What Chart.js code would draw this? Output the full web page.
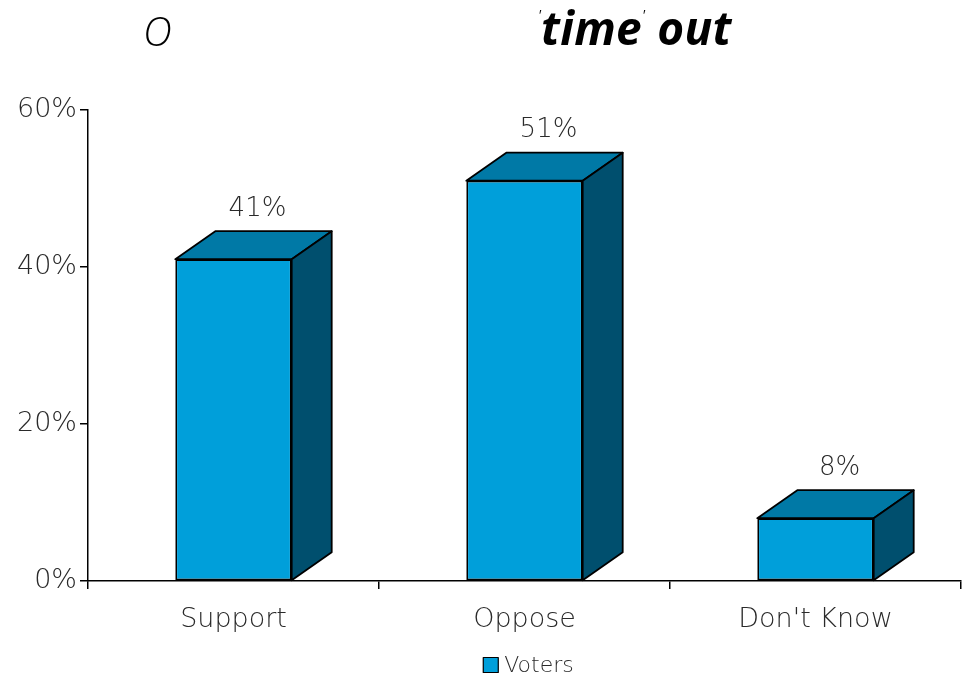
<!DOCTYPE html>
<html>
<head>
<meta charset="utf-8">
<script src="https://cdn.jsdelivr.net/npm/chart.js@4"></script>
<style>
  html, body { margin: 0; padding: 0; background: #fff; }
  #wrap { position: relative; width: 963px; height: 676px; }
  #c { position: absolute; left: 0; top: 0; }
  .t { position: absolute; font-family: "Open Sans", sans-serif; font-style: italic; color: #000; white-space: nowrap; }
  #t1 { left: 143px; top: 3px; font-size: 40px; font-weight: 300; }
  #t2 { left: 538px; top: -4px; font-size: 46px; font-weight: 700; letter-spacing: 0.3px; }
  #t2 .q { font-size: 14px; font-weight: 400; vertical-align: 25px; letter-spacing: 0; }
</style>
</head>
<body>
<div id="wrap">
  <canvas id="c" width="963" height="676"></canvas>
  <div class="t" id="t1">O</div>
  <div class="t" id="t2"><span class="q">'</span>time<span class="q">'</span> out</div>
</div>
<script>
const categories = ["Support", "Oppose", "Don't Know"];
const seriesLabel = "Voters";
const voters = [41, 51, 8];
const yTicks = [0, 20, 40, 60];

const FRONT = "#009fda";
const TOP = "#0079a6";
const SIDE = "#004f6e";
const DX = 40, DY = 28;
const FONT = "'DejaVu Sans ExtraLight', 'DejaVu Sans', sans-serif";
const TXT = "#2a2a2a";

const bar3d = {
  id: "bar3d",
  afterDatasetsDraw(chart) {
    const ctx = chart.ctx;
    const meta = chart.getDatasetMeta(0);
    ctx.save();
    ctx.lineWidth = 1.8;
    ctx.strokeStyle = "#000";
    ctx.lineJoin = "round";
    meta.data.forEach((bar, i) => {
      const p = bar.getProps(["x", "y", "base", "width"], true);
      const l = p.x - p.width / 2, r = p.x + p.width / 2;
      // top face
      ctx.beginPath();
      ctx.moveTo(l, p.y);
      ctx.lineTo(l + DX, p.y - DY);
      ctx.lineTo(r + DX, p.y - DY);
      ctx.lineTo(r, p.y);
      ctx.closePath();
      ctx.fillStyle = TOP; ctx.fill(); ctx.stroke();
      // side face
      ctx.beginPath();
      ctx.moveTo(r, p.y);
      ctx.lineTo(r + DX, p.y - DY);
      ctx.lineTo(r + DX, p.base - DY);
      ctx.lineTo(r, p.base);
      ctx.closePath();
      ctx.fillStyle = SIDE; ctx.fill(); ctx.stroke();
      // value label
      ctx.fillStyle = TXT;
      ctx.font = "200 26px " + FONT;
      ctx.textAlign = "center";
      ctx.textBaseline = "middle";
      ctx.fillText(voters[i] + "%", p.x + DX / 2 + 4, p.y - DY - 22);
    });
    // legend
    const cx = (chart.chartArea.left + chart.chartArea.right) / 2;
    ctx.font = "200 22px " + FONT;
    const tw = ctx.measureText(seriesLabel).width;
    const box = 15, gap = 6;
    const total = box + gap + tw;
    const lx = cx - total / 2 + 4;
    const ly = 665;
    ctx.fillStyle = FRONT;
    ctx.fillRect(lx, ly - box / 2, box, box);
    ctx.lineWidth = 1.2;
    ctx.strokeRect(lx, ly - box / 2, box, box);
    ctx.fillStyle = TXT;
    ctx.textAlign = "left";
    ctx.textBaseline = "middle";
    ctx.fillText(seriesLabel, lx + box + gap, ly + 1);
    ctx.restore();
  }
};

new Chart(document.getElementById("c"), {
  type: "bar",
  data: {
    labels: categories,
    datasets: [{
      label: seriesLabel,
      data: voters,
      backgroundColor: FRONT,
      borderColor: "#000",
      borderWidth: 1.8,
      borderSkipped: false,
      barPercentage: 0.8,
      categoryPercentage: 0.5
    }]
  },
  options: {
    responsive: false,
    animation: false,
    devicePixelRatio: 1,
    layout: { padding: { top: 110, right: 2, left: 0, bottom: 0 } },
    plugins: { legend: { display: false }, tooltip: { enabled: false }, title: { display: false } },
    scales: {
      x: {
        offset: true,
        grid: { display: true, offset: true, drawOnChartArea: false, tickLength: 8, color: "#000", lineWidth: 1.5 },
        border: { display: true, color: "#000", width: 1.5 },
        ticks: { color: TXT, font: { family: FONT, size: 27, weight: 200 }, padding: 15 },
        afterFit(s) { s.height = 95; }
      },
      y: {
        min: 0, max: 60,
        afterBuildTicks(s) { s.ticks = yTicks.map(v => ({ value: v })); },
        grid: { display: true, drawOnChartArea: false, tickLength: 8, color: "#000", lineWidth: 1.5 },
        border: { display: true, color: "#000", width: 1.5 },
        ticks: { color: TXT, font: { family: FONT, size: 27, weight: 200 }, padding: 3, callback: v => v + "%" },
        afterFit(s) { s.width = 88; }
      }
    }
  },
  plugins: [bar3d]
});
</script>
</body>
</html>
